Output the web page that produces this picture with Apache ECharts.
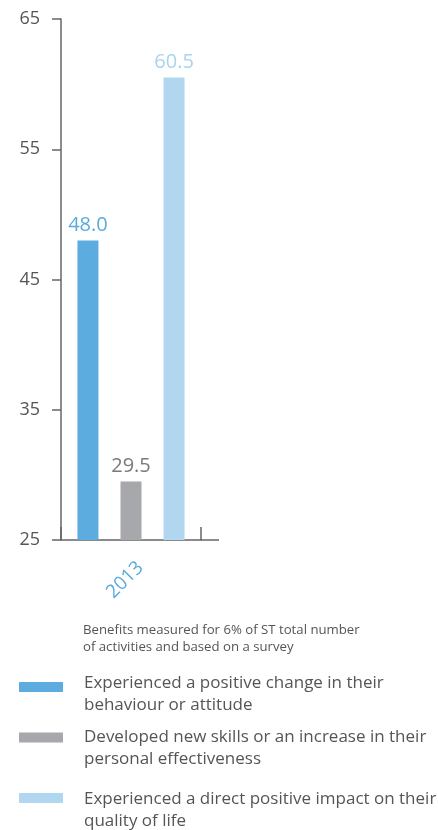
<!DOCTYPE html>
<html>
<head>
<meta charset="utf-8">
<script src="https://cdn.jsdelivr.net/npm/echarts@6/dist/echarts.min.js"></script>
<style>
html,body{margin:0;padding:0;background:#fff;}
#chart{width:438px;height:830px;}
</style>
</head>
<body>
<div id="chart"></div>
<script>
var categories = ['2013'];
var seriesNames = [
  'Experienced a positive change in their\nbehaviour or attitude',
  'Developed new skills or an increase in their\npersonal effectiveness',
  'Experienced a direct positive impact on their\nquality of life'
];
var seriesValues = [[48.0], [29.5], [60.5]];
var seriesColors = ['#5dacdf', '#a7a8ab', '#b0d7ef'];
var labelColors = ['#5aaadc', '#7a7a7c', '#a9d3ee'];
var yTicks = [25, 35, 45, 55, 65];
var noteText = 'Benefits measured for 6% of ST total number\nof activities and based on a survey';

var FONT = '"Open Sans", "Noto Sans", sans-serif';
var chart = echarts.init(document.getElementById('chart'));

var legendTops = [658, 705, 764];
var legendSpacer = [14, 21, 24];
var legends = seriesNames.map(function (n, i) {
  return {
    show: true,
    orient: 'vertical',
    left: 19,
    top: legendTops[i],
    padding: 0,
    data: [n],
    icon: 'rect',
    itemWidth: 44,
    itemHeight: 10,
    itemGap: 0,
    selectedMode: false,
    formatter: function (name) { return '{s| }\n' + name; },
    textStyle: {
      fontFamily: FONT, fontSize: 17, color: '#555', lineHeight: 22, padding: [0, 0, 0, 16],
      rich: { s: { fontSize: 4, lineHeight: legendSpacer[i] } }
    }
  };
});

var option = {
  animation: false,
  backgroundColor: '#fff',
  title: {
    text: noteText,
    left: 83,
    top: 622,
    padding: 0,
    textStyle: { fontFamily: FONT, fontSize: 13.2, fontWeight: 'normal', color: '#555', lineHeight: 17 }
  },
  legend: legends,
  grid: { left: 61, top: 19, width: 140, height: 521, containLabel: false },
  xAxis: {
    type: 'category',
    data: categories,
    axisLine: { lineStyle: { color: '#666', width: 1.5 } },
    axisTick: { show: true, inside: true, length: 13, lineStyle: { color: '#666', width: 1.5 } },
    axisLabel: {
      rotate: 45, color: '#5aaadc', fontFamily: FONT, fontSize: 19, margin: 34,
      align: 'center', verticalAlign: 'middle', padding: [0, 17, 0, 0]
    }
  },
  yAxis: {
    type: 'value',
    min: yTicks[0],
    max: yTicks[yTicks.length - 1],
    interval: 10,
    splitLine: { show: false },
    axisLine: { show: true, lineStyle: { color: '#666', width: 1.5 } },
    axisTick: { show: true, length: 9, lineStyle: { color: '#666', width: 1.5 } },
    axisLabel: { color: '#555', fontFamily: FONT, fontSize: 18, margin: 21 }
  },
  graphic: [{
    type: 'line',
    shape: { x1: 201, y1: 540, x2: 219, y2: 540 },
    style: { stroke: '#666', lineWidth: 1.5 }
  }],
  series: seriesNames.map(function (n, i) {
    return {
      name: n,
      type: 'bar',
      data: seriesValues[i],
      barWidth: 21,
      barGap: '105%',
      itemStyle: { color: seriesColors[i] },
      label: {
        show: true,
        position: 'top',
        distance: 5,
        formatter: function (p) { return p.value.toFixed(1); },
        color: labelColors[i],
        fontFamily: FONT,
        fontSize: 20
      }
    };
  })
};
chart.setOption(option);
</script>
</body>
</html>
